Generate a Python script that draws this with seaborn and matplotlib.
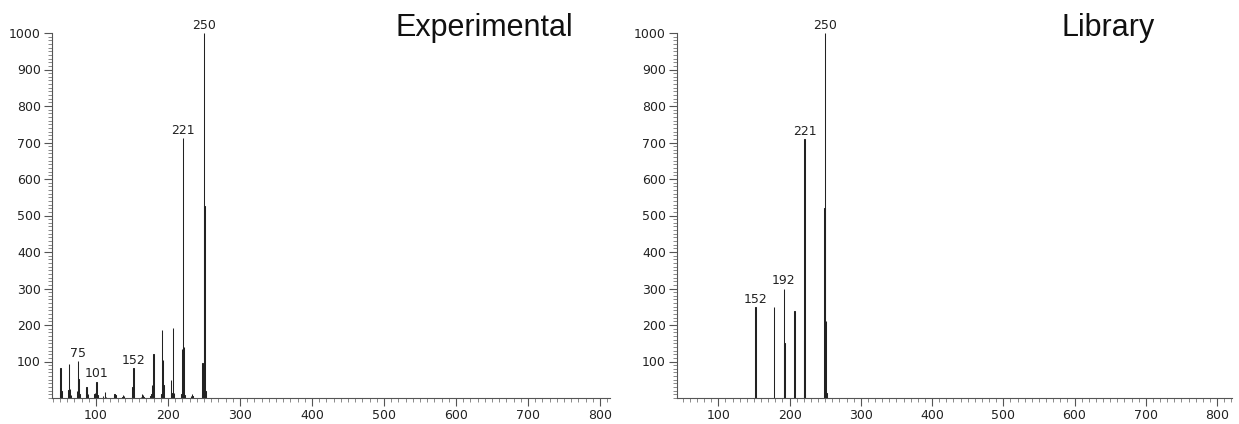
import matplotlib
matplotlib.use("Agg")
import matplotlib.pyplot as plt
import seaborn as sns
import pandas as pd
from matplotlib.ticker import MultipleLocator

# Experimental spectrum (m/z, relative intensity)
exp_mz = [50, 51, 52, 62, 63, 64, 65, 74, 75, 76, 77, 86, 87, 88, 89, 98, 99, 100, 101, 102,
          110, 113, 114, 125, 126, 127, 137, 138, 139, 150, 151, 152, 153, 163, 164, 165, 166,
          176, 177, 178, 180, 181, 190, 191, 192, 193, 194, 204, 205, 206, 207, 208,
          219, 220, 221, 222, 223, 232, 233, 234, 247, 248, 249, 250, 251, 252]
exp_int = [12, 83, 20, 22, 92, 25, 8, 20, 101, 52, 10, 22, 30, 25, 12, 12, 15, 18, 45, 8,
           5, 17, 4, 6, 12, 8, 4, 8, 5, 6, 30, 82, 8, 4, 12, 8, 4, 6, 10, 35, 120, 8, 8, 12,
           186, 104, 35, 50, 15, 12, 193, 15, 12, 134, 712, 140, 8, 5, 10, 5, 10, 97, 35, 1000, 525, 18]
exp_labels = [75, 101, 152, 221, 250]

# Library spectrum
lib_mz = [152, 178, 192, 193, 207, 220, 221, 222, 249, 250, 251, 252]
lib_int = [249, 249, 300, 152, 238, 160, 709, 10, 521, 1000, 210, 15]
lib_labels = [152, 192, 221, 250]

sns.set_style("ticks")
plt.rcParams['font.family'] = ['DejaVu Sans']

fig = plt.figure(figsize=(12.39, 4.24), dpi=100)
ax1 = fig.add_axes([52 / 1239, 1 - 398 / 424, 558 / 1239, 365 / 424])
ax2 = fig.add_axes([677 / 1239, 1 - 398 / 424, 555 / 1239, 365 / 424])

panels = [
    (ax1, exp_mz, exp_int, exp_labels, (39, 814), "Experimental", 395),
    (ax2, lib_mz, lib_int, lib_labels, (42, 821), "Library", 1061),
]

for ax, mz, inten, labels, xlim, title, tx in panels:
    df = pd.DataFrame({"mz": mz, "intensity": inten})
    sns.barplot(data=df, x="mz", y="intensity", native_scale=True, width=0.4,
                color="#222222", edgecolor="#222222", linewidth=0.75, ax=ax,
                saturation=1)
    ax.set_xlim(*xlim)
    ax.set_ylim(0, 1000)
    ax.set_xlabel("")
    ax.set_ylabel("")
    ax.set_xticks(range(100, 801, 100))
    ax.set_yticks(range(100, 1001, 100))
    ax.xaxis.set_minor_locator(MultipleLocator(10))
    ax.yaxis.set_minor_locator(MultipleLocator(10))
    ax.tick_params(axis="both", which="major", length=6, width=0.8, color="#555555",
                   labelsize=9, labelcolor="#222222", pad=2)
    ax.tick_params(axis="both", which="minor", length=3, width=0.6, color="#777777")
    for s in ["top", "right"]:
        ax.spines[s].set_visible(False)
    for s in ["left", "bottom"]:
        ax.spines[s].set_color("#555555")
        ax.spines[s].set_linewidth(0.8)
    for m in labels:
        h = inten[mz.index(m)]
        ax.annotate(str(m), (m, h), xytext=(0, 1), textcoords="offset points",
                    ha="center", va="bottom", fontsize=9, color="#222222")
    fig.text(tx / 1239, 1 - 36 / 424, title, fontsize=22, family="Liberation Sans",
             ha="left", va="baseline", color="#111111")

fig.savefig("out.png", dpi=100)
